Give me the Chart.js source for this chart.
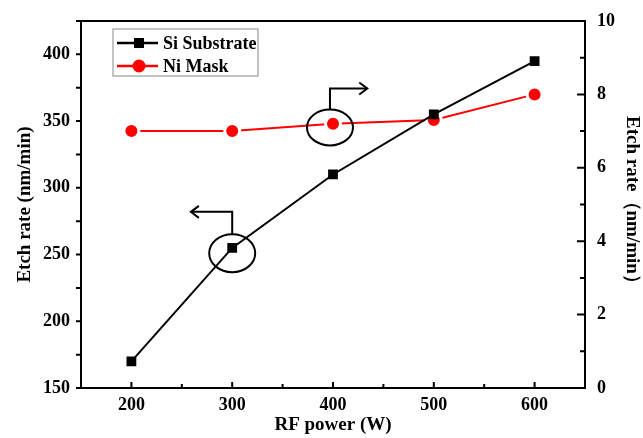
<!DOCTYPE html>
<html>
<head>
<meta charset="utf-8">
<script src="https://cdn.jsdelivr.net/npm/chart.js@4.4.0/dist/chart.umd.min.js"></script>
<style>
  html, body { margin: 0; padding: 0; background: #fff; }
  #wrap { width: 643px; height: 438px; }
</style>
</head>
<body>
<div id="wrap"><canvas id="etchChart" width="643" height="438"></canvas></div>
<script>
// data
var rfPower = [200, 300, 400, 500, 600];
var siRate = [170, 255, 310, 355, 395];       // nm/min, left axis
var niRate = [7.0, 7.0, 7.2, 7.3, 8.0];       // nm/min, right axis
var xTicks = [200, 300, 400, 500, 600];
var leftTicks = [150, 200, 250, 300, 350, 400];
var rightTicks = [0, 2, 4, 6, 8, 10];

var serif = '"Liberation Serif", "DejaVu Serif", serif';
var tickFont = { family: serif, size: 18, weight: 'bold', lineHeight: 1 };
var titleFont = { family: serif, size: 19, weight: 'bold', lineHeight: 1 };

function pts(xs, ys) {
    var out = [];
    for (var i = 0; i < xs.length; i++) out.push({x: xs[i], y: ys[i]});
    return out;
}

function stepTicks(from, to, step) {
    return function(s) {
        s.ticks = [];
        for (var v = from; v <= to + 1e-9; v += step) s.ticks.push({value: v});
    };
}

// frame, tick marks, legend and the circle/arrow callouts
var extras = {
    id: 'extras',
    afterDraw: function(chart) {
        var c = chart.ctx, a = chart.chartArea;
        var sx = chart.scales.x, sy = chart.scales.y, sy1 = chart.scales.y1;
        c.save();
        c.strokeStyle = '#000';
        c.lineWidth = 2;
        c.strokeRect(a.left, a.top, a.right - a.left, a.bottom - a.top);

        // tick marks: x and right axis point inward, left axis outward
        c.beginPath();
        sx.ticks.forEach(function(t) {
            var p = sx.getPixelForValue(t.value), len = xTicks.indexOf(t.value) >= 0 ? 6 : 4;
            if (t.value <= 150 || t.value >= 650) return;
            c.moveTo(p, a.bottom); c.lineTo(p, a.bottom - len);
        });
        sy.ticks.forEach(function(t) {
            var p = sy.getPixelForValue(t.value);
            c.moveTo(a.left, p); c.lineTo(a.left - 5, p);
        });
        sy1.ticks.forEach(function(t) {
            var p = sy1.getPixelForValue(t.value), len = rightTicks.indexOf(t.value) >= 0 ? 8 : 5;
            c.moveTo(a.right, p); c.lineTo(a.right - len, p);
        });
        c.stroke();

        // legend
        var lx = a.left + 32, ly = a.top + 8;
        c.lineWidth = 1;
        c.strokeStyle = '#888';
        c.strokeRect(lx, ly, 145, 47);
        c.font = 'bold 18px ' + serif;
        c.textBaseline = 'middle';
        c.fillStyle = '#000';
        c.strokeStyle = '#000';
        c.lineWidth = 2.5;
        c.beginPath(); c.moveTo(lx + 4, ly + 14); c.lineTo(lx + 45, ly + 14); c.stroke();
        c.fillRect(lx + 21, ly + 9, 10, 10);
        c.fillText('Si Substrate', lx + 50, ly + 15);
        c.strokeStyle = '#f00';
        c.fillStyle = '#f00';
        c.beginPath(); c.moveTo(lx + 4, ly + 37); c.lineTo(lx + 45, ly + 37); c.stroke();
        c.beginPath(); c.arc(lx + 26, ly + 37, 6.5, 0, Math.PI * 2); c.fill();
        c.fillStyle = '#000';
        c.fillText('Ni Mask', lx + 50, ly + 38);

        // callouts
        c.strokeStyle = '#000';
        c.lineWidth = 2;
        function callout(scaleY, cx, cy, topY, endX, rx, ry) {
            var px = sx.getPixelForValue(cx), py = scaleY.getPixelForValue(cy);
            var ty = scaleY.getPixelForValue(topY), ex = sx.getPixelForValue(endX);
            c.beginPath(); c.ellipse(px, py, rx, ry, 0, 0, Math.PI * 2); c.stroke();
            c.beginPath();
            c.moveTo(px, py - ry); c.lineTo(px, ty); c.lineTo(ex, ty);
            c.stroke();
            var d = ex < px ? 1 : -1;
            c.beginPath();
            c.moveTo(ex + d * 8, ty - 6); c.lineTo(ex, ty); c.lineTo(ex + d * 8, ty + 6);
            c.stroke();
        }
        callout(sy, 300, 251, 282, 259, 23, 19);
        callout(sy1, 397, 7.1, 8.16, 434, 23, 18);
        c.restore();
    }
};

var ctx = document.getElementById('etchChart').getContext('2d');
var chart = new Chart(ctx, {
    type: 'line',
    data: {
        datasets: [{
            label: 'Si Substrate',
            data: pts(rfPower, siRate),
            yAxisID: 'y',
            borderColor: '#000',
            backgroundColor: '#000',
            borderWidth: 2,
            pointStyle: 'rect',
            pointRadius: 5.5,
            pointHoverRadius: 5.5
        }, {
            label: 'Ni Mask',
            data: pts(rfPower, niRate),
            yAxisID: 'y1',
            borderColor: '#f00',
            backgroundColor: '#f00',
            borderWidth: 2,
            pointStyle: 'circle',
            pointRadius: 7.5,
            pointHoverRadius: 7.5,
            pointBorderColor: '#fff',   // small gap between line and symbol
            pointBorderWidth: 3
        }]
    },
    options: {
        responsive: false,
        animation: false,
        layout: { padding: { top: 20, left: 0, right: 0, bottom: 0 } },
        plugins: { legend: { display: false }, tooltip: { enabled: false } },
        scales: {
            x: {
                type: 'linear', min: 150, max: 650,
                afterBuildTicks: stepTicks(150, 650, 50),
                afterFit: function(s) { s.height = 50; },
                ticks: {
                    color: '#000', font: tickFont, padding: 8, maxRotation: 0,
                    callback: function(v) { return xTicks.indexOf(v) >= 0 ? String(v) : ''; }
                },
                grid: { display: false, drawTicks: false },
                border: { display: false },
                title: { display: true, text: 'RF power (W)', color: '#000',
                         padding: { top: 0, bottom: 3.5 }, font: titleFont }
            },
            y: {
                position: 'left', min: 150, max: 425,
                afterBuildTicks: stepTicks(150, 425, 25),
                afterFit: function(s) { s.width = 81; },
                ticks: {
                    color: '#000', font: tickFont, padding: 11,
                    callback: function(v) { return leftTicks.indexOf(v) >= 0 ? String(v) : ''; }
                },
                grid: { display: false, drawTicks: false },
                border: { display: false },
                title: { display: true, text: 'Etch rate (nm/min)', color: '#000',
                         padding: { top: 15.5, bottom: 0 }, font: titleFont }
            },
            y1: {
                position: 'right', min: 0, max: 10,
                afterBuildTicks: stepTicks(0, 10, 1),
                afterFit: function(s) { s.width = 58; },
                ticks: {
                    color: '#000', font: tickFont, padding: 12,
                    callback: function(v) { return rightTicks.indexOf(v) >= 0 ? String(v) : ''; }
                },
                grid: { display: false, drawTicks: false },
                border: { display: false },
                title: { display: true, text: 'Etch rate（nm/min）', color: '#000',
                         padding: { top: 1.5, bottom: 0 }, font: titleFont }
            }
        }
    },
    plugins: [extras]
});
</script>
</body>
</html>
